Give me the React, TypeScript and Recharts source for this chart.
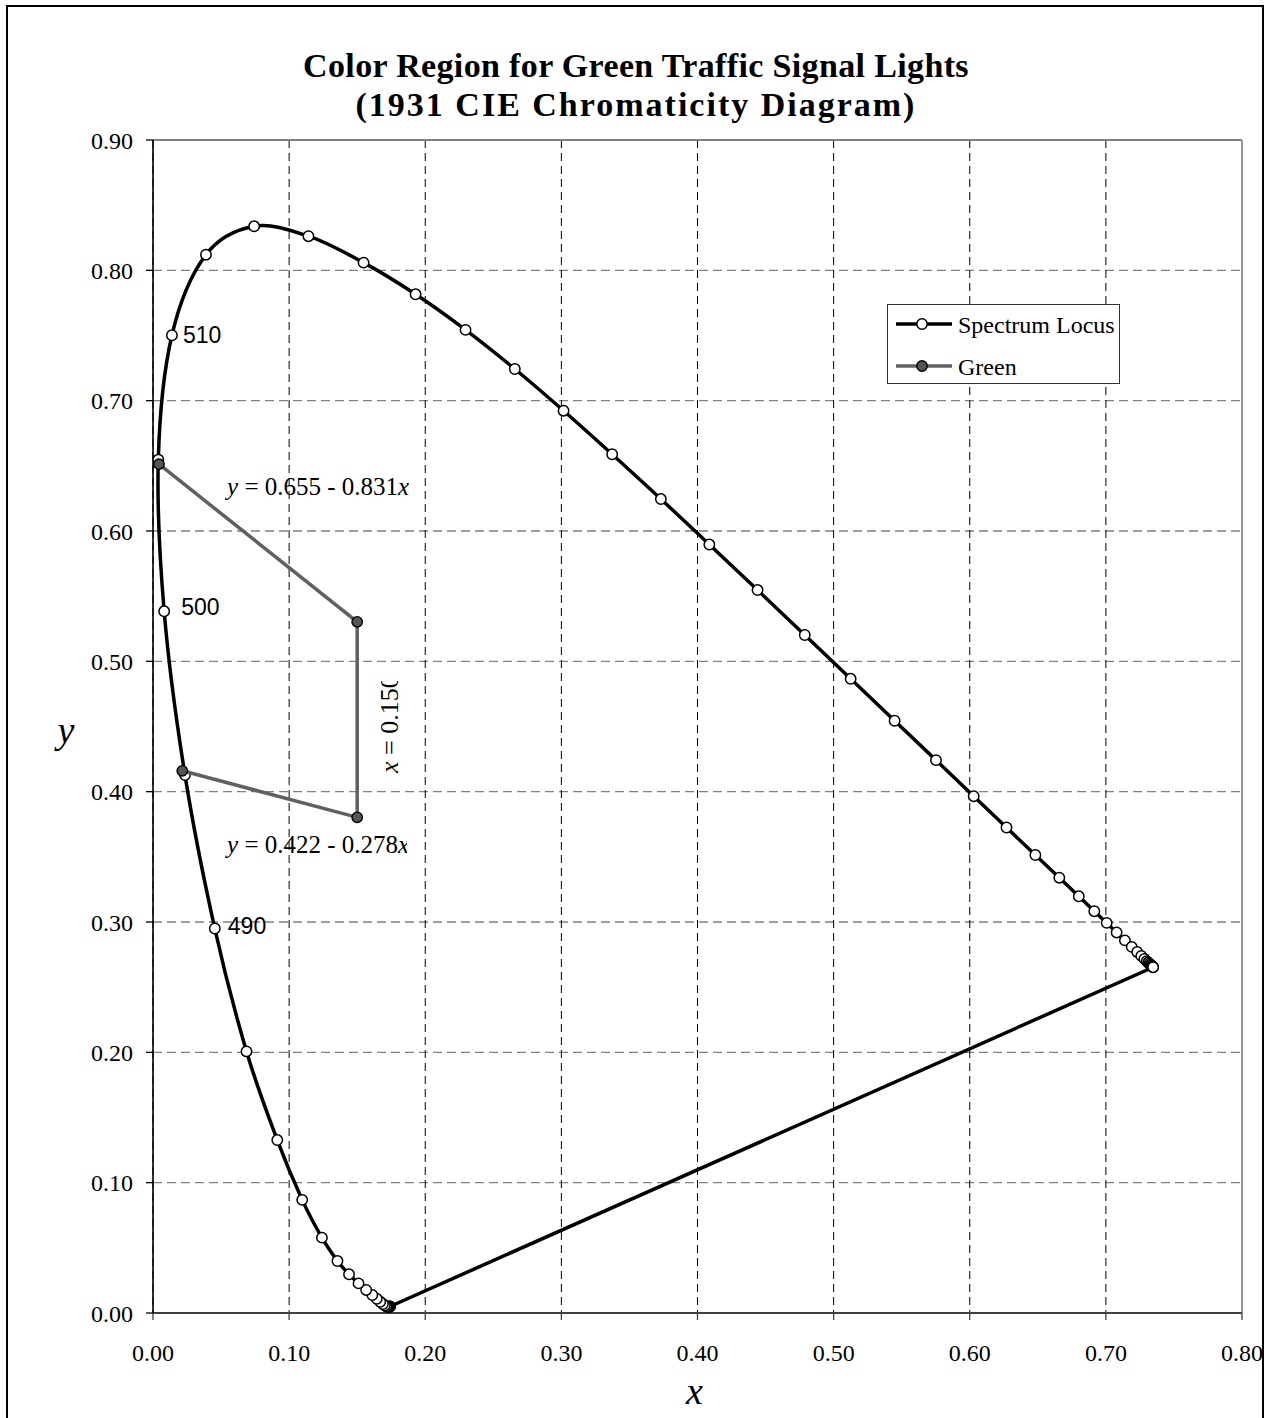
import React from "react"
import {
  CartesianGrid,
  Legend,
  ReferenceDot,
  ReferenceLine,
  Scatter,
  ScatterChart,
  XAxis,
  YAxis,
} from "recharts"

const SERIF = "'Liberation Serif', 'Times New Roman', serif"
const SANS = "'Liberation Sans', Arial, sans-serif"

// CIE 1931 spectrum locus, 380–700 nm every 5 nm
const LOCUS_X = [
  0.1741, 0.174, 0.1738, 0.1736, 0.1733, 0.173, 0.1726, 0.1721, 0.1714, 0.1703, 0.1689, 0.1669,
  0.1644, 0.1611, 0.1566, 0.151, 0.144, 0.1355, 0.1241, 0.1096, 0.0913, 0.0687, 0.0454, 0.0235,
  0.0082, 0.0039, 0.0139, 0.0389, 0.0743, 0.1142, 0.1547, 0.1929, 0.2296, 0.2658, 0.3016, 0.3373,
  0.3731, 0.4087, 0.4441, 0.4788, 0.5125, 0.5448, 0.5752, 0.6029, 0.627, 0.6482, 0.6658, 0.6801,
  0.6915, 0.7006, 0.7079, 0.714, 0.719, 0.723, 0.726, 0.7283, 0.73, 0.7311, 0.732, 0.7327, 0.7334,
  0.734, 0.7344, 0.7346, 0.7347,
]
const LOCUS_Y = [
  0.005, 0.005, 0.0049, 0.0049, 0.0048, 0.0048, 0.0048, 0.0048, 0.0051, 0.0058, 0.0069, 0.0086,
  0.0109, 0.0138, 0.0177, 0.0227, 0.0297, 0.0399, 0.0578, 0.0868, 0.1327, 0.2007, 0.295, 0.4127,
  0.5384, 0.6548, 0.7502, 0.812, 0.8338, 0.8262, 0.8059, 0.7816, 0.7543, 0.7243, 0.6923, 0.6589,
  0.6245, 0.5896, 0.5547, 0.5202, 0.4866, 0.4544, 0.4242, 0.3965, 0.3725, 0.3514, 0.334, 0.3197,
  0.3083, 0.2993, 0.292, 0.2859, 0.2809, 0.277, 0.274, 0.2717, 0.27, 0.2689, 0.268, 0.2673, 0.2666,
  0.266, 0.2656, 0.2654, 0.2653,
]

// purple line closing the locus (700 nm back to 380 nm)
const PURPLE_X = [0.7347, 0.1741]
const PURPLE_Y = [0.2653, 0.005]

// green signal region corners
const GREEN_X = [0.0044, 0.15, 0.15, 0.0215]
const GREEN_Y = [0.6513, 0.5303, 0.3803, 0.416]

const X_TICKS = [0, 0.1, 0.2, 0.3, 0.4, 0.5, 0.6, 0.7, 0.8]
const Y_TICKS = [0, 0.1, 0.2, 0.3, 0.4, 0.5, 0.6, 0.7, 0.8, 0.9]

const WAVE_LABELS = ["510", "500", "490"]
const WAVE_X = [0.0139, 0.0082, 0.0454]
const WAVE_Y = [0.7502, 0.5384, 0.295]

const locus = LOCUS_X.map((x, i) => ({ x, y: LOCUS_Y[i] }))
const purple = PURPLE_X.map((x, i) => ({ x, y: PURPLE_Y[i] }))
const green = GREEN_X.map((x, i) => ({ x, y: GREEN_Y[i] }))

// label nudges in px
const WAVE_DX = [11, 17, 13]
const WAVE_DY = [0, -4, -3]

// Excel-like smoothing (Catmull-Rom through the points)
function smoothCurve(context: any) {
  let pts: number[][] = []
  return {
    areaStart() {},
    areaEnd() {},
    lineStart() {
      pts = []
    },
    point(x: number, y: number) {
      pts.push([+x, +y])
    },
    lineEnd() {
      if (!pts.length) return
      context.moveTo(pts[0][0], pts[0][1])
      for (let i = 0; i < pts.length - 1; i++) {
        const p0 = pts[i - 1] || pts[i]
        const p1 = pts[i]
        const p2 = pts[i + 1]
        const p3 = pts[i + 2] || p2
        context.bezierCurveTo(
          p1[0] + (p2[0] - p0[0]) / 6,
          p1[1] + (p2[1] - p0[1]) / 6,
          p2[0] - (p3[0] - p1[0]) / 6,
          p2[1] - (p3[1] - p1[1]) / 6,
          p2[0],
          p2[1]
        )
      }
    },
  }
}

const OpenDot = (p: any) => (
  <circle cx={p.cx} cy={p.cy} r={5.2} fill="#fff" stroke="#000" strokeWidth={1.5} />
)
const GreenDot = (p: any) => (
  <circle cx={p.cx} cy={p.cy} r={5.2} fill="#555" stroke="#000" strokeWidth={1.4} />
)
const NoDot = () => null

const renderLegend = () => (
  <div
    style={{
      width: 233,
      height: 80,
      boxSizing: "border-box",
      border: "1px solid #333",
      background: "#fff",
    }}
  >
    <svg width={231} height={78} style={{ display: "block" }}>
      <line x1={8} x2={64} y1={19} y2={19} stroke="#000" strokeWidth={3.5} />
      <circle cx={34} cy={19} r={5.2} fill="#fff" stroke="#000" strokeWidth={1.5} />
      <text x={70} y={28} fontFamily={SERIF} fontSize={24} fill="#000">
        Spectrum Locus
      </text>
      <line x1={8} x2={64} y1={61} y2={61} stroke="#606060" strokeWidth={3.5} />
      <circle cx={34} cy={61} r={5.2} fill="#555" stroke="#000" strokeWidth={1.4} />
      <text x={70} y={70} fontFamily={SERIF} fontSize={24} fill="#000">
        Green
      </text>
    </svg>
  </div>
)

const eqLabel = (a: string, b: string, clipId: string, clipW: number) => (props: any) => {
  const { x, y } = props.viewBox
  return (
    <g>
      <defs>
        <clipPath id={clipId}>
          <rect x={x - 2} y={y - 30} width={clipW} height={40} />
        </clipPath>
      </defs>
      <text x={x} y={y} fontFamily={SERIF} fontSize={25} fill="#000" clipPath={`url(#${clipId})`}>
        <tspan fontStyle="italic">{a}</tspan>
        <tspan>{b}</tspan>
        <tspan fontStyle="italic">x</tspan>
      </text>
    </g>
  )
}

const verticalLabel = (props: any) => {
  const { x, y } = props.viewBox
  return (
    <g transform={`translate(${x},${y}) rotate(-90)`}>
      <defs>
        <clipPath id="vclip">
          <rect x={-4} y={-30} width={96} height={40} />
        </clipPath>
      </defs>
      <text x={0} y={0} fontFamily={SERIF} fontSize={26} fill="#000" clipPath="url(#vclip)">
        <tspan fontStyle="italic">x</tspan>
        <tspan> = 0.150</tspan>
      </text>
    </g>
  )
}

export default function App() {
  const tick = { fontFamily: SERIF, fontSize: 24, fill: "#000" }
  return (
    <div
      style={{
        position: "absolute",
        left: 0,
        top: 0,
        width: 1273,
        height: 1418,
        background: "#fff",
        overflow: "hidden",
      }}
    >
      <div
        style={{
          position: "absolute",
          left: 6,
          top: 5,
          width: 1258,
          height: 1440,
          border: "2px solid #000",
          boxSizing: "border-box",
        }}
      />
      <div style={{ position: "absolute", left: 0, top: 0 }}>
        <ScatterChart
          width={1273}
          height={1418}
          margin={{ top: 140, right: 31, bottom: 45, left: 73 }}
        >
          <CartesianGrid vertical={false} stroke="#808080" strokeWidth={1.3} strokeDasharray="9 5" />
          <CartesianGrid horizontal={false} stroke="#000" strokeWidth={1} strokeDasharray="8 5" />
          <XAxis
            type="number"
            dataKey="x"
            domain={[0, 0.8]}
            ticks={X_TICKS}
            interval={0}
            tickFormatter={(v: number) => v.toFixed(2)}
            tick={tick}
            tickSize={7}
            tickMargin={24}
            height={60}
            axisLine={{ stroke: "#404040", strokeWidth: 2 }}
            tickLine={{ stroke: "#404040", strokeWidth: 1.3 }}
            allowDataOverflow
            label={(p: any) => {
              const vb = p.viewBox
              return (
                <text
                  x={vb.x + vb.width / 2 - 3}
                  y={vb.y + 91}
                  textAnchor="middle"
                  fontFamily={SERIF}
                  fontStyle="italic"
                  fontSize={38}
                  fill="#000"
                >
                  x
                </text>
              )
            }}
          />
          <YAxis
            type="number"
            dataKey="y"
            domain={[0, 0.9]}
            ticks={Y_TICKS}
            interval={0}
            tickFormatter={(v: number) => v.toFixed(2)}
            tick={tick}
            tickSize={7}
            tickMargin={13}
            width={80}
            axisLine={{ stroke: "#000", strokeWidth: 1.6 }}
            tickLine={{ stroke: "#000", strokeWidth: 1.3 }}
            allowDataOverflow
            label={(p: any) => {
              const vb = p.viewBox
              return (
                <text
                  x={66}
                  y={vb.y + vb.height / 2 + 16}
                  textAnchor="middle"
                  fontFamily={SERIF}
                  fontStyle="italic"
                  fontSize={38}
                  fill="#000"
                >
                  y
                </text>
              )
            }}
          />
          <ReferenceLine y={0.9} stroke="#808080" strokeWidth={2} />
          <ReferenceLine x={0.8} stroke="#999" strokeWidth={2} />
          <Scatter
            name="Purple line"
            data={purple}
            fill="#000"
            line={{ stroke: "#000", strokeWidth: 3.5 }}
            lineJointType="linear"
            shape={NoDot}
            isAnimationActive={false}
          />
          <Scatter
            name="Spectrum Locus"
            data={locus}
            fill="#000"
            line={{ stroke: "#000", strokeWidth: 3.5 }}
            lineJointType={smoothCurve as any}
            shape={OpenDot}
            isAnimationActive={false}
          />
          <Scatter
            name="Green"
            data={green}
            fill="#606060"
            line={{ stroke: "#606060", strokeWidth: 3.5 }}
            lineJointType="linear"
            shape={GreenDot}
            isAnimationActive={false}
          />
          {WAVE_LABELS.map((w, i) => (
            <ReferenceDot
              key={w}
              x={WAVE_X[i]}
              y={WAVE_Y[i]}
              r={0}
              stroke="none"
              fill="none"
              label={(p: any) => (
                <text
                  x={p.viewBox.x + WAVE_DX[i]}
                  y={p.viewBox.y + WAVE_DY[i]}
                  dominantBaseline="central"
                  fontFamily={SANS}
                  fontSize={23}
                  fill="#000"
                >
                  {w}
                </text>
              )}
            />
          ))}
          <ReferenceDot x={0.0544} y={0.6276} r={0} stroke="none" fill="none" label={eqLabel("y", " = 0.655 - 0.831", "eq1", 192)} />
          <ReferenceDot x={0.0544} y={0.3529} r={0} stroke="none" fill="none" label={eqLabel("y", " = 0.422 - 0.278", "eq2", 182)} />
          <ReferenceDot x={0.18} y={0.4143} r={0} stroke="none" fill="none" label={verticalLabel} />
          <Legend
            layout="vertical"
            align="center"
            verticalAlign="middle"
            content={renderLegend}
            wrapperStyle={{ left: 887, top: 304, width: 233, height: 80 }}
          />
        </ScatterChart>
      </div>
      <svg
        width={1273}
        height={140}
        style={{ position: "absolute", left: 0, top: 0, pointerEvents: "none" }}
      >
        <text
          x={636}
          y={77}
          textAnchor="middle"
          fontFamily={SERIF}
          fontWeight="bold"
          fontSize={34}
          letterSpacing={0.35}
          fill="#000"
        >
          Color Region for Green Traffic Signal Lights
        </text>
        <text
          x={636}
          y={116}
          textAnchor="middle"
          fontFamily={SERIF}
          fontWeight="bold"
          fontSize={34}
          letterSpacing={2}
          fill="#000"
        >
          (1931 CIE Chromaticity Diagram)
        </text>
      </svg>
    </div>
  )
}
